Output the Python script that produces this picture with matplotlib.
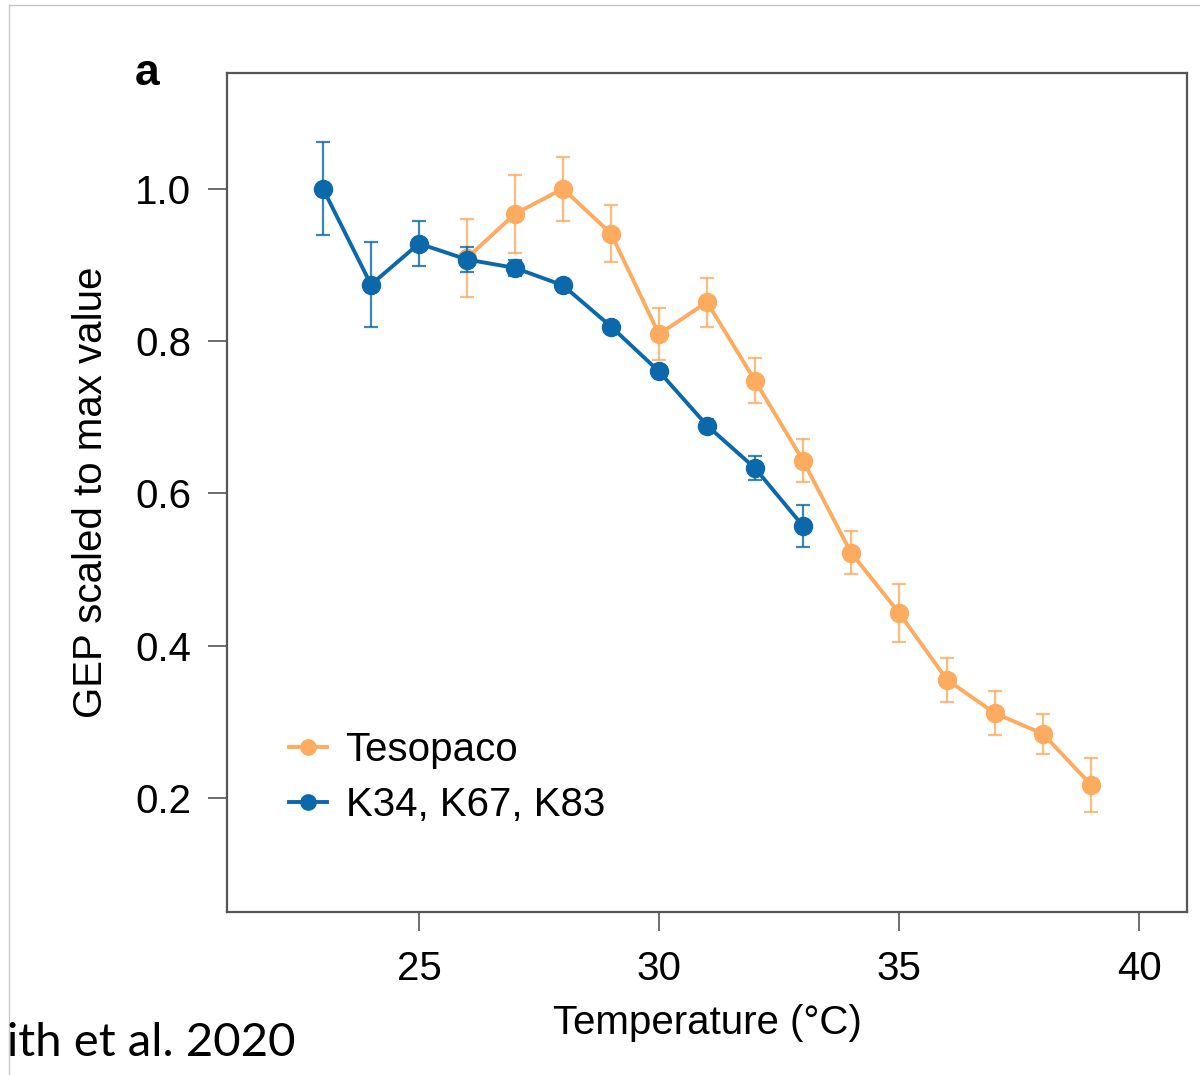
import matplotlib
matplotlib.use("Agg")
import matplotlib.pyplot as plt
from matplotlib.lines import Line2D

plt.rcParams['font.family'] = ['Liberation Sans', 'DejaVu Sans']

# Tesopaco (orange)
teso_temp = [26, 27, 28, 29, 30, 31, 32, 33, 34, 35, 36, 37, 38, 39]
teso_gep = [0.909, 0.967, 1.0, 0.941, 0.809, 0.851, 0.748, 0.643, 0.522, 0.443, 0.355, 0.311, 0.284, 0.217]
teso_err = [0.051, 0.051, 0.042, 0.037, 0.034, 0.032, 0.030, 0.028, 0.028, 0.038, 0.029, 0.029, 0.026, 0.035]

# K34, K67, K83 (blue)
k_temp = [23, 24, 25, 26, 27, 28, 29, 30, 31, 32, 33]
k_gep = [1.0, 0.874, 0.928, 0.907, 0.896, 0.873, 0.819, 0.760, 0.689, 0.633, 0.557]
k_err = [0.061, 0.056, 0.030, 0.016, 0.010, 0.006, 0.004, 0.005, 0.008, 0.016, 0.027]

orange = '#fdab5f'
blue = '#0a68ab'

fig = plt.figure(figsize=(12, 10.75), dpi=100)
ax = fig.add_axes([227/1200, 1 - 912/1075, 960/1200, 839/1075])

ax.errorbar(teso_temp, teso_gep, yerr=teso_err, color=orange, marker='o', markersize=13,
            lw=2.8, elinewidth=1.6, capsize=5, capthick=1.6, ecolor=orange + 'cc', zorder=2)
ax.errorbar(k_temp, k_gep, yerr=k_err, color=blue, marker='o', markersize=13,
            lw=2.8, elinewidth=1.6, capsize=5, capthick=1.6, ecolor=blue + 'cc', zorder=3)

ax.set_xlim(21, 41)
ax.set_ylim(0.05, 1.152)
ax.set_xticks([25, 30, 35, 40])
ax.set_yticks([0.2, 0.4, 0.6, 0.8, 1.0])
ax.set_yticklabels(['0.2', '0.4', '0.6', '0.8', '1.0'])

for s in ax.spines.values():
    s.set_linewidth(1.6)
    s.set_color('#555555')
ax.tick_params(axis='both', length=14, width=1.2, color='#555555', labelsize=29)
ax.tick_params(axis='y', pad=12)
ax.tick_params(axis='x', pad=13)

ax.set_xlabel('Temperature (°C)', fontsize=29, labelpad=12)
ax.set_ylabel('GEP scaled to max value', fontsize=29, labelpad=18)

handles = [Line2D([], [], color=orange, marker='o', markersize=11, lw=2.8),
           Line2D([], [], color=blue, marker='o', markersize=11, lw=2.8)]
ax.legend(handles, ['Tesopaco', 'K34, K67, K83'], loc='lower left', bbox_to_anchor=(0.027, 0.062),
          frameon=False, fontsize=29, handlelength=0.95, handletextpad=0.45, labelspacing=0.42)

fig.text(135/1200, 1 - 85/1075, 'a', fontsize=32, fontweight='bold')
fig.text(7/1200, 1 - 1056/1075, 'ith et al. 2020', fontsize=34, family=['Lato', 'DejaVu Sans'])

# thin frame of the source image (top and left only)
fig.add_artist(Line2D([9/1200, 1], [1 - 5/1075, 1 - 5/1075], transform=fig.transFigure,
                      color='#c8c8c8', lw=1))
fig.add_artist(Line2D([9/1200, 9/1200], [0, 1 - 5/1075], transform=fig.transFigure,
                      color='#c8c8c8', lw=1))

fig.savefig('out.png', dpi=100)
